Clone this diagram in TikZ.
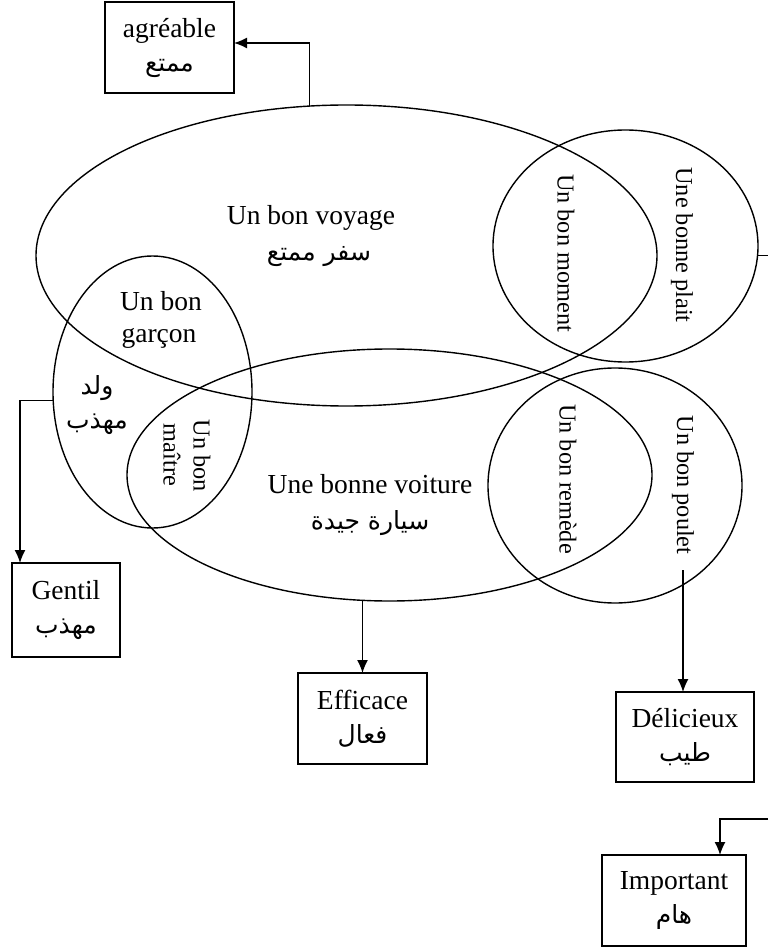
\documentclass[tikz,border=0pt]{standalone}
\usepackage{fontspec}
\setmainfont{Liberation Serif}
\newfontfamily\arfont[Script=Arabic]{DejaVu Sans}
\TeXXeTstate=1
\usetikzlibrary{shapes.geometric,arrows.meta}
\newcommand\AR[1]{{\arfont\fontsize{25}{34}\selectfont\beginR #1\endR}}
\begin{document}
\begin{tikzpicture}[x=1pt,y=-1pt,line width=1.4pt,
  font=\fontsize{27.5}{34}\selectfont,
  ell/.style={ellipse, draw, inner sep=0pt, outer sep=0pt},
  lbl/.style={inner sep=0pt},
  vlbl/.style={rotate=-90, inner sep=0pt, font=\fontsize{24.3}{29}\selectfont},
  tbox/.style={rectangle, draw, align=center, inner sep=0pt, outer sep=0pt},
  arr/.style={-{Latex[length=13pt,width=11pt]}}]
\useasboundingbox (0,0) rectangle (768,949);

% ellipses
\node[ell, minimum width=621pt, minimum height=301pt] (voyage) at (346.5,255.5) {};
\node[ell, minimum width=265pt, minimum height=232pt] (moment) at (625.5,246) {};
\node[ell, minimum width=199pt, minimum height=272pt] (garcon) at (152.5,392) {};
\node[ell, minimum width=525pt, minimum height=252pt] (voiture) at (389.5,475) {};
\node[ell, minimum width=254pt, minimum height=235pt] (remede) at (615,485.5) {};

% labels
\node[lbl, anchor=base] (tvoy) at (311,225) {Un bon voyage};
\node[lbl] (tvoyar) at (319,257) {\AR{سفر ممتع}};
\node[vlbl] (tmom) at (566,253) {Un bon moment};
\node[vlbl] (tplait) at (682,245) {Une bonne plait};
\node[lbl, anchor=base] (tgar1) at (161,310) {Un bon};
\node[lbl, anchor=base] (tgar2) at (159,342) {garçon};
\node[lbl] (tgarar1) at (97,388) {\AR{ولد}};
\node[lbl] (tgarar2) at (97,424) {\AR{مهذب}};
\node[vlbl] (tmai1) at (202,456) {Un bon};
\node[vlbl] (tmai2) at (172,455) {maître};
\node[lbl, anchor=base] (tvoit) at (370,493) {Une bonne voiture};
\node[lbl] (tvoitar) at (370,523) {\AR{سيارة جيدة}};
\node[vlbl] (trem) at (568,479) {Un bon remède};
\node[vlbl] (poulet) at (683,485) {Un bon poulet};

% boxes
\node[tbox, minimum width=129pt, minimum height=91pt] (agr) at (169.5,47.5) {agréable\\\AR{ممتع}};
\node[tbox, minimum width=108pt, minimum height=94pt] (gentil) at (66,610) {Gentil\\\AR{مهذب}};
\node[tbox, minimum width=129pt, minimum height=91pt] (effi) at (362.5,718.5) {Efficace\\\AR{فعال}};
\node[tbox, minimum width=138pt, minimum height=90pt] (deli) at (685,737) {Délicieux\\\AR{طيب}};
\node[tbox, minimum width=144pt, minimum height=91pt] (imp) at (674,900.5) {Important\\\AR{هام}};

% free ends
\coordinate (redge) at (768,0);
\coordinate (isrc) at (768,819);

% connectors
\draw[arr] (voyage.104.8) |- ([yshift=4.5pt]agr.east);
\draw (moment.-4.3) -- (moment.-4.3 -| redge);
\draw[arr] (garcon.185.8) -| ([xshift=8pt]gentil.north west);
\draw[arr] (effi.north |- voiture.south) -- (effi.north);
\draw[arr] ([yshift=-15pt]poulet.east) -- (poulet.east |- deli.north);
\draw[arr] (isrc) -| ([xshift=46pt]imp.north);
\end{tikzpicture}
\end{document}
